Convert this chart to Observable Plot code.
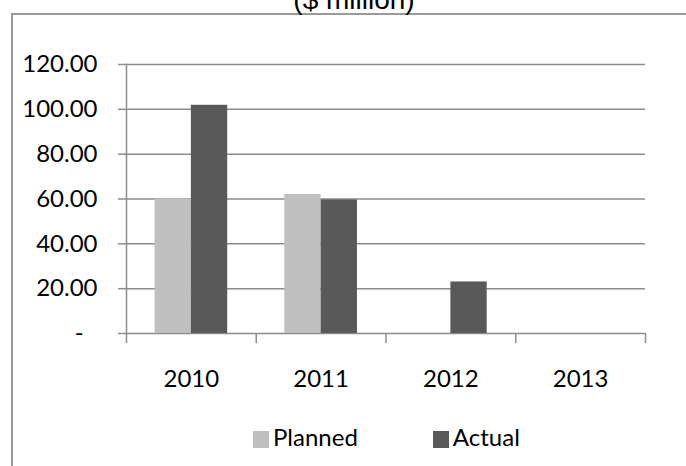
<!DOCTYPE html>
<html>
<head>
<meta charset="utf-8">
<script src="https://cdn.jsdelivr.net/npm/d3@7"></script>
<script src="https://cdn.jsdelivr.net/npm/@observablehq/plot@0.6"></script>
<style>
  html, body { margin: 0; padding: 0; background: #fff; }
  #wrap { position: relative; width: 686px; height: 466px; overflow: hidden; background: #fff; }
  #border { position: absolute; left: 11px; top: 13px; width: 800px; height: 600px;
            border-left: 2px solid #9a9a9a; border-top: 2px solid #9a9a9a; }
  #title { position: absolute; left: 0; width: 708px; top: -14px; text-align: center;
           font-family: "Liberation Sans", Arial, sans-serif; font-size: 28px; line-height: 28px; color: #000; white-space: nowrap; }
  #chart { position: absolute; left: 0; top: 0; }
  #legend { position: absolute; left: 253px; top: 422px; display: flex; align-items: center;
            font-family: Lato, sans-serif; font-size: 24px; color: #000; line-height: 30px; }
  .item { display: flex; align-items: center; }
  .sw { width: 16px; height: 17px; margin-right: 4px; margin-top: 4px; }
</style>
</head>
<body>
<div id="wrap">
  <div id="border"></div>
  <div id="title">($ million)</div>
  <div id="chart"></div>
  <div id="legend"></div>
</div>
<script>
const years = [2010, 2011, 2012, 2013];
const series = ["Planned", "Actual"];
const planned = [60, 62, null, null];
const actual = [101.8, 59.6, 23, null];
const colors = ["#bfbfbf", "#595959"];
const yTicks = [0, 20, 40, 60, 80, 100, 120];
const titleText = "($ million)";

// bar width as a fraction of one category slot
const BW = 0.28;
const gridColor = "#8c8c8c";

const rows = [];
years.forEach((yr, i) => {
  if (planned[i] != null) rows.push({year: yr, series: "Planned", value: planned[i]});
  if (actual[i] != null) rows.push({year: yr, series: "Actual", value: actual[i]});
});
const bounds = years.map(y => y - 0.5).concat([years[years.length - 1] + 0.5]);

const chart = Plot.plot({
  width: 686,
  height: 395,
  marginLeft: 126,
  marginRight: 41,
  marginTop: 64,
  marginBottom: 62,
  style: {fontFamily: "Lato, sans-serif", fontSize: "24px", color: "#000", background: "transparent", overflow: "visible"},
  x: {domain: [bounds[0], bounds[bounds.length - 1]]},
  y: {domain: [0, 120]},
  color: {domain: series, range: colors},
  marks: [
    Plot.gridY(yTicks, {stroke: gridColor, strokeOpacity: 1, strokeWidth: 1.5}),
    Plot.axisY(yTicks, {tickSize: 8, tickPadding: 21, stroke: gridColor, strokeWidth: 1.5, label: null,
      tickFormat: d => d === 0 ? "-\u2007" : d.toFixed(2)}),
    Plot.frame({anchor: "left", stroke: gridColor, strokeWidth: 1.5}),
    Plot.axisX(bounds, {tickSize: 10, stroke: gridColor, strokeWidth: 1.5, tickFormat: () => "", label: null}),
    Plot.axisX(years, {tickSize: 0, tickPadding: 36, tickFormat: d => String(d), label: null}),
    Plot.rectY(rows, {
      x1: d => d.year - (d.series === "Planned" ? BW : 0),
      x2: d => d.year + (d.series === "Actual" ? BW : 0),
      y: "value",
      fill: "series"
    })
  ]
});
document.getElementById("chart").appendChild(chart);

const legend = document.getElementById("legend");
series.forEach((s, i) => {
  const item = document.createElement("div");
  item.className = "item";
  if (i > 0) item.style.marginLeft = "75px";
  const sw = document.createElement("div");
  sw.className = "sw";
  sw.style.background = colors[i];
  const t = document.createElement("span");
  t.textContent = s;
  item.appendChild(sw);
  item.appendChild(t);
  legend.appendChild(item);
});
document.getElementById("title").textContent = titleText;
</script>
</body>
</html>
